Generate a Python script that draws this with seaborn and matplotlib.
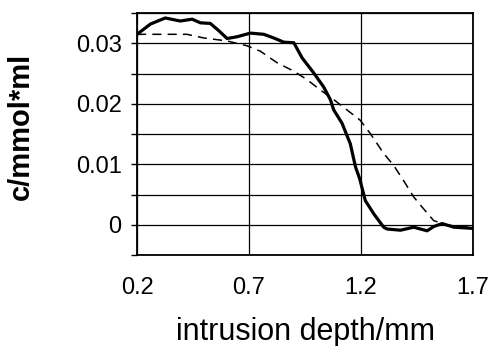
"""
Concentration profile vs intrusion depth (measured vs model)
"""

import numpy as np
import pandas as pd
import matplotlib
matplotlib.use('Agg')
import matplotlib.pyplot as plt
import seaborn as sns

# Data
depth_measured = [0.2, 0.26, 0.326, 0.393, 0.446, 0.483, 0.527, 0.565, 0.602, 0.647,
                  0.706, 0.766, 0.81, 0.855, 0.9, 0.937, 0.989, 1.033, 1.063, 1.078,
                  1.115, 1.152, 1.175, 1.194, 1.219, 1.257, 1.301, 1.316, 1.376, 1.435,
                  1.495, 1.524, 1.562, 1.614, 1.7]
conc_measured = [0.0315, 0.0332, 0.0342, 0.0337, 0.034, 0.0334, 0.0333, 0.0321, 0.0308, 0.0311,
                 0.0317, 0.0315, 0.0309, 0.0302, 0.0301, 0.0276, 0.0251, 0.0228, 0.0207, 0.019,
                 0.0168, 0.0134, 0.0096, 0.0076, 0.004, 0.0018, -0.0004, -0.0007, -0.0009, -0.0004,
                 -0.001, -0.0003, 0.0002, -0.0004, -0.0006]

depth_model = [0.2, 0.304, 0.423, 0.498, 0.602, 0.691, 0.751, 0.825, 0.9, 0.959,
               1.018, 1.078, 1.137, 1.196, 1.241, 1.301, 1.346, 1.39, 1.435, 1.48,
               1.524, 1.569, 1.614, 1.7]
conc_model = [0.0315, 0.0315, 0.0315, 0.0309, 0.0304, 0.0296, 0.0287, 0.0268, 0.0254, 0.024,
              0.0223, 0.0207, 0.019, 0.0173, 0.0151, 0.0118, 0.0098, 0.0073, 0.0046, 0.0026,
              0.0007, 0.0001, -0.0002, -0.0004]

x_ticks = [0.2, 0.7, 1.2, 1.7]
y_ticks = [0, 0.01, 0.02, 0.03]
y_ticks_minor = [-0.005, 0.005, 0.015, 0.025, 0.035]

sns.set_theme(style='white', rc={'text.color': 'black', 'axes.labelcolor': 'black',
                                 'xtick.color': 'black', 'ytick.color': 'black'})
plt.rcParams['font.family'] = ['Liberation Sans', 'DejaVu Sans']

df_meas = pd.DataFrame({'depth': depth_measured, 'c': conc_measured})
df_model = pd.DataFrame({'depth': depth_model, 'c': conc_model})

fig = plt.figure(figsize=(4.92, 3.46), dpi=100)
ax = fig.add_axes([0.2785, 0.263, 0.683, 0.699])

sns.lineplot(data=df_model, x='depth', y='c', ax=ax, color='black',
             linewidth=1.1, linestyle=(0, (6, 4)))
sns.lineplot(data=df_meas, x='depth', y='c', ax=ax, color='black', linewidth=2.3)

ax.set_xlim(0.2, 1.7)
ax.set_ylim(-0.005, 0.035)
ax.set_xticks(x_ticks)
ax.set_xticklabels(['0.2', '0.7', '1.2', '1.7'])
ax.set_yticks(y_ticks)
ax.set_yticklabels(['0', '0.01', '0.02', '0.03'])
ax.set_yticks(y_ticks_minor, minor=True)

ax.grid(True, which='both', color='black', linewidth=0.9)
ax.tick_params(axis='y', which='both', left=True, length=4, width=1, color='black',
               labelcolor='black', labelsize=17, pad=7)
ax.tick_params(axis='x', which='both', bottom=False, labelcolor='black', labelsize=17, pad=10)

for spine in ax.spines.values():
    spine.set_color('black')
    spine.set_linewidth(1.3)

ax.set_xlabel('intrusion depth/mm', fontsize=22, color='black')
ax.set_ylabel('c/mmol*ml', fontsize=21, fontweight='bold', color='black')
ax.yaxis.set_label_coords(-0.304, 0.531)
ax.xaxis.set_label_coords(0.5, -0.255)

plt.savefig('out.png', dpi=100, facecolor='white')
plt.close()
